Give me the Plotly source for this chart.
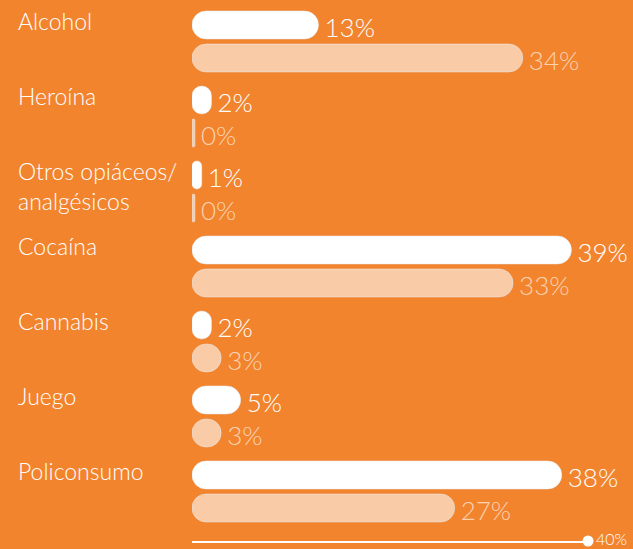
import plotly.graph_objects as go

# data
CATEGORIES = ["Alcohol", "Heroína", "Otros opiáceos/<br>analgésicos", "Cocaína",
              "Cannabis", "Juego", "Policonsumo"]
SERIES_A = [13, 2, 1, 39, 2, 5, 38]   # white bars
SERIES_B = [34, 0, 0, 33, 3, 3, 27]   # peach bars
AXIS_MAX = 40

BG = '#F2842E'
WHITE = '#FFFFFF'
PEACH = '#F9CBA6'
PEACH_TEXT = '#FAD2B2'
FONT = 'Lato, "Open Sans", sans-serif'

MIN_VISIBLE = 0.3      # zero values still show as a thin stub
OFFSET_B = 0.44        # second bar sits below the first one
BAR_W = 0.373
TEXT_DROP = 0.075      # value labels sit a little low, like the original
X_END = AXIS_MAX * 1.0175   # scale runs a hair past 40 where the dot sits

ya = list(range(len(CATEGORIES)))
yb = [i + OFFSET_B for i in ya]
draw_a = [max(v, MIN_VISIBLE) for v in SERIES_A]
draw_b = [max(v, MIN_VISIBLE) for v in SERIES_B]

fig = go.Figure()
# base=0 makes plotly round both ends of each bar
for vals, ys, col in [(draw_a, ya, WHITE), (draw_b, yb, PEACH)]:
    fig.add_trace(go.Bar(x=vals, y=ys, base=[0] * len(vals), orientation='h', width=BAR_W,
                         marker=dict(color=col, cornerradius=14),
                         hoverinfo='skip', showlegend=False))

for vals, raw, ys, col in [(draw_a, SERIES_A, ya, WHITE), (draw_b, SERIES_B, yb, PEACH_TEXT)]:
    fig.add_trace(go.Scatter(
        x=vals, y=[y + TEXT_DROP for y in ys], mode='markers+text',
        marker=dict(size=8, color='rgba(0,0,0,0)'),
        text=[f'{v}%' for v in raw], textposition='middle right',
        textfont=dict(size=26, color=col, family=FONT, weight=300),
        cliponaxis=False, hoverinfo='skip', showlegend=False))

# end dot of the scale
y_bottom = 6.88
fig.add_trace(go.Scatter(
    x=[X_END], y=[y_bottom], mode='markers+text',
    marker=dict(size=11, color=WHITE), text=[f'{AXIS_MAX}%'], textposition='middle right',
    textfont=dict(size=16, color=WHITE, family=FONT, weight=300),
    cliponaxis=False, hoverinfo='skip', showlegend=False))

for i, name in enumerate(CATEGORIES):
    fig.add_annotation(x=-0.444, xref='paper', y=i - 0.27, yref='y',
                       text=name, showarrow=False, xanchor='left', yanchor='top',
                       align='left', font=dict(size=23, color=WHITE, family=FONT, weight=300))

fig.update_layout(
    width=633, height=549,
    barmode='overlay',
    margin=dict(l=192, r=45, t=0, b=8),
    paper_bgcolor=BG,
    plot_bgcolor=BG,
    xaxis=dict(range=[0, X_END], showgrid=False, zeroline=False, showticklabels=False,
               showline=True, linecolor=WHITE, linewidth=2, fixedrange=True),
    yaxis=dict(range=[y_bottom, -1 / 3], showgrid=False, zeroline=False,
               showticklabels=False, fixedrange=True),
    font=dict(family=FONT, color=WHITE),
)

fig.write_html("out.html", config={'displayModeBar': False},
               post_script="document.body.style.margin='0';")
